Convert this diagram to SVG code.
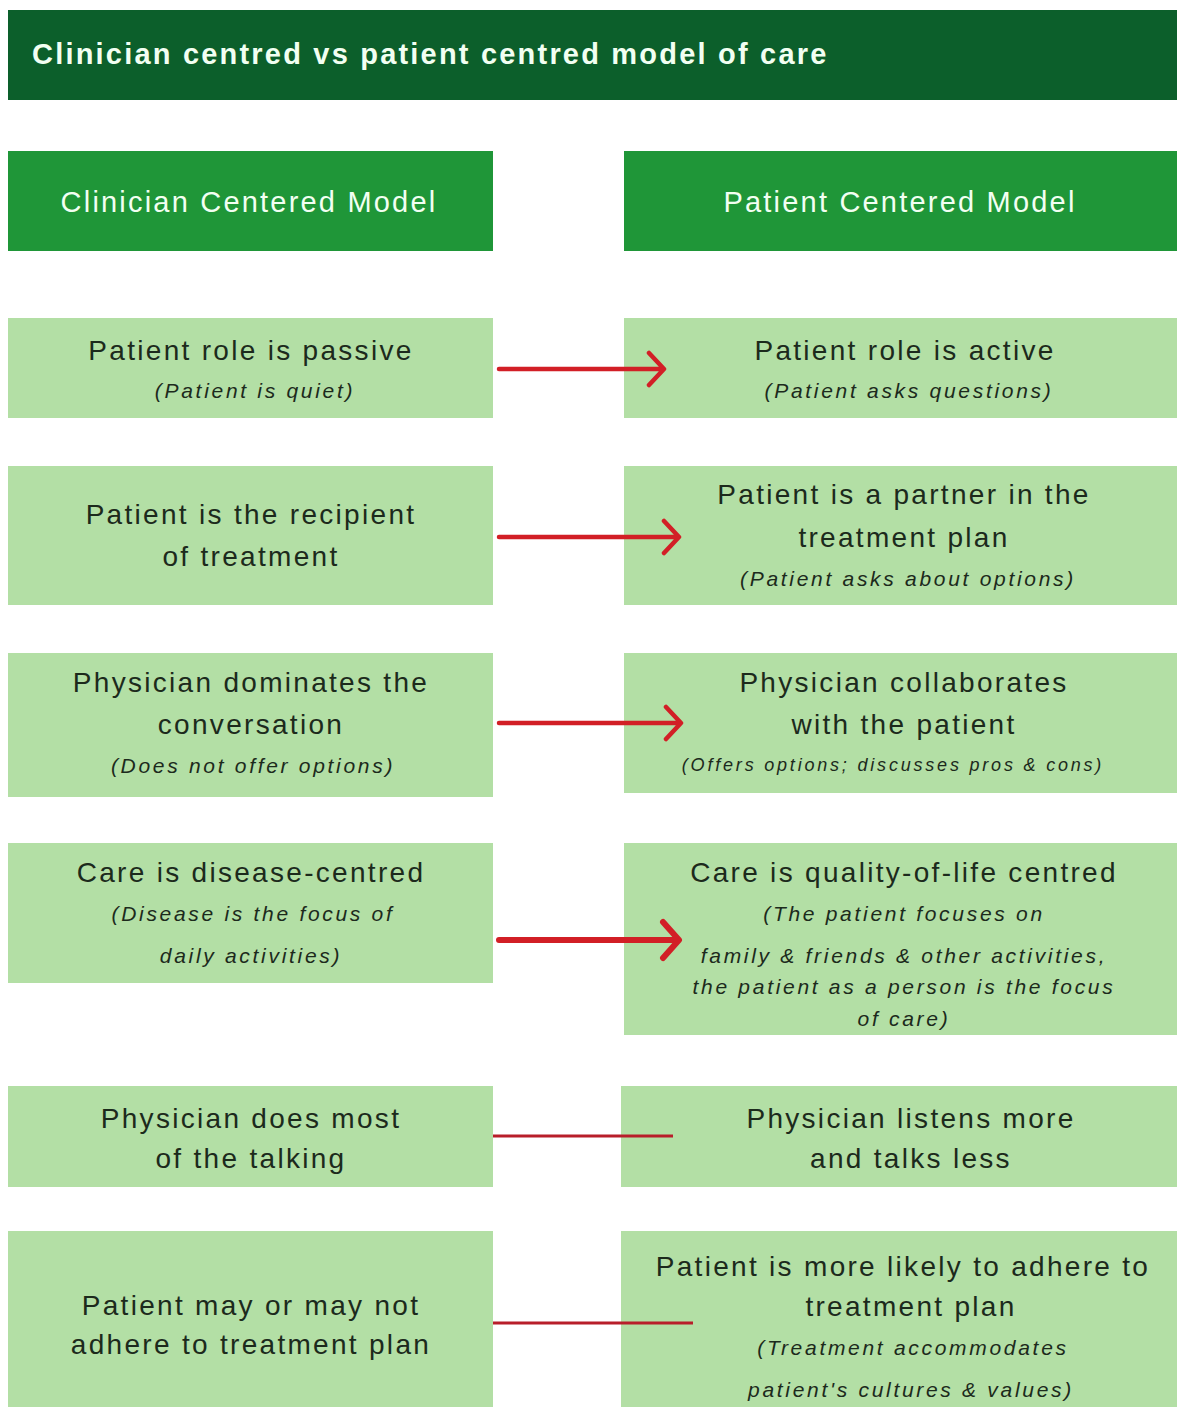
<svg xmlns="http://www.w3.org/2000/svg" width="1177" height="1407" viewBox="0 0 1177 1407">
  <style>
    .title { fill: #0c5f2b; }
    .head { fill: #1f9638; }
    .cell { fill: #b3dfa5; }
    .t-title { font-family: "Liberation Sans", Arial, sans-serif; font-weight: bold; font-size: 29px; fill: #f2fff2; letter-spacing: 2.2px; }
    .t-head { font-family: "Liberation Sans", Arial, sans-serif; font-size: 29px; fill: #f2fff2; text-anchor: middle; letter-spacing: 2.2px; }
    .t-main { font-family: "Liberation Sans", Arial, sans-serif; font-size: 28px; fill: #1c2a1c; text-anchor: middle; letter-spacing: 2.3px; }
    .t-note { font-family: "Liberation Sans", Arial, sans-serif; font-style: italic; font-size: 21px; fill: #1c2a1c; text-anchor: middle; letter-spacing: 2.7px; }
    .t-small { font-family: "Liberation Sans", Arial, sans-serif; font-style: italic; font-size: 18px; fill: #1c2a1c; text-anchor: middle; letter-spacing: 2.8px; }
    .arrow { fill: none; stroke: #d21f26; stroke-width: 4.5; stroke-linecap: round; stroke-linejoin: round; }
    .arrow-bold { fill: none; stroke: #d21f26; stroke-width: 6; stroke-linecap: round; stroke-linejoin: round; }
    .link { fill: none; stroke: #b81e2a; stroke-width: 3; }
  </style>

  <!-- banner -->
  <g id="banner">
    <rect class="title" x="8" y="10" width="1169" height="90"/>
    <text class="t-title" x="32" y="64">Clinician centred vs patient centred model of care</text>
  </g>

  <!-- column headers -->
  <g id="head-clinician">
    <rect class="head" x="8" y="151" width="485" height="100"/>
    <text class="t-head" x="249" y="212">Clinician Centered Model</text>
  </g>
  <g id="head-patient">
    <rect class="head" x="624" y="151" width="553" height="100"/>
    <text class="t-head" x="900" y="212">Patient Centered Model</text>
  </g>

  <!-- row 1 -->
  <g id="c-role">
    <rect class="cell" x="8" y="318" width="485" height="100"/>
    <text class="t-main" x="251" y="360">Patient role is passive</text>
    <text class="t-note" x="255" y="398">(Patient is quiet)</text>
  </g>
  <g id="p-role">
    <rect class="cell" x="624" y="318" width="553" height="100"/>
    <text class="t-main" x="905" y="360">Patient role is active</text>
    <text class="t-note" x="909" y="398">(Patient asks questions)</text>
  </g>

  <!-- row 2 -->
  <g id="c-recipient">
    <rect class="cell" x="8" y="466" width="485" height="139"/>
    <text class="t-main" x="251" y="524">Patient is the recipient</text>
    <text class="t-main" x="251" y="566">of treatment</text>
  </g>
  <g id="p-partner">
    <rect class="cell" x="624" y="466" width="553" height="139"/>
    <text class="t-main" x="904" y="504">Patient is a partner in the</text>
    <text class="t-main" x="904" y="547">treatment plan</text>
    <text class="t-note" x="908" y="586">(Patient asks about options)</text>
  </g>

  <!-- row 3 -->
  <g id="c-dominates">
    <rect class="cell" x="8" y="653" width="485" height="144"/>
    <text class="t-main" x="251" y="692">Physician dominates the</text>
    <text class="t-main" x="251" y="734">conversation</text>
    <text class="t-note" x="253" y="773">(Does not offer options)</text>
  </g>
  <g id="p-collaborates">
    <rect class="cell" x="624" y="653" width="553" height="140"/>
    <text class="t-main" x="904" y="692">Physician collaborates</text>
    <text class="t-main" x="904" y="734">with the patient</text>
    <text class="t-small" x="893" y="771">(Offers options; discusses pros &amp; cons)</text>
  </g>

  <!-- row 4 -->
  <g id="c-disease">
    <rect class="cell" x="8" y="843" width="485" height="140"/>
    <text class="t-main" x="251" y="882">Care is disease-centred</text>
    <text class="t-note" x="253" y="921">(Disease is the focus of</text>
    <text class="t-note" x="251" y="963">daily activities)</text>
  </g>
  <g id="p-quality">
    <rect class="cell" x="624" y="843" width="553" height="192"/>
    <text class="t-main" x="904" y="882">Care is quality-of-life centred</text>
    <text class="t-note" x="904" y="921">(The patient focuses on</text>
    <text class="t-note" x="904" y="963">family &amp; friends &amp; other activities,</text>
    <text class="t-note" x="904" y="994">the patient as a person is the focus</text>
    <text class="t-note" x="904" y="1026">of care)</text>
  </g>

  <!-- row 5 -->
  <g id="c-talking">
    <rect class="cell" x="8" y="1086" width="485" height="101"/>
    <text class="t-main" x="251" y="1128">Physician does most</text>
    <text class="t-main" x="251" y="1168">of the talking</text>
  </g>
  <g id="p-listens">
    <rect class="cell" x="621" y="1086" width="556" height="101"/>
    <text class="t-main" x="911" y="1128">Physician listens more</text>
    <text class="t-main" x="911" y="1168">and talks less</text>
  </g>

  <!-- row 6 -->
  <g id="c-adhere">
    <rect class="cell" x="8" y="1231" width="485" height="176"/>
    <text class="t-main" x="251" y="1315">Patient may or may not</text>
    <text class="t-main" x="251" y="1354">adhere to treatment plan</text>
  </g>
  <g id="p-adhere">
    <rect class="cell" x="621" y="1231" width="556" height="176"/>
    <text class="t-main" x="903" y="1276">Patient is more likely to adhere to</text>
    <text class="t-main" x="911" y="1316">treatment plan</text>
    <text class="t-note" x="913" y="1355" letter-spacing="3.6">(Treatment accommodates</text>
    <text class="t-note" x="911" y="1397" letter-spacing="3">patient's cultures &amp; values)</text>
  </g>

  <!-- connectors -->
  <g id="connectors">
    <path class="arrow" d="M499,369 H663 M649,353 L664,369 L649,385"/>
    <path class="arrow" d="M499,537 H678 M664,521 L679,537 L664,553"/>
    <path class="arrow" d="M499,723 H680 M666,707 L681,723 L666,739"/>
    <path class="arrow-bold" d="M499,940 H678 M663,922 L679,940 L663,958"/>
    <path class="link" d="M493,1136 H673"/>
    <path class="link" d="M493,1323 H693"/>
  </g>
</svg>
